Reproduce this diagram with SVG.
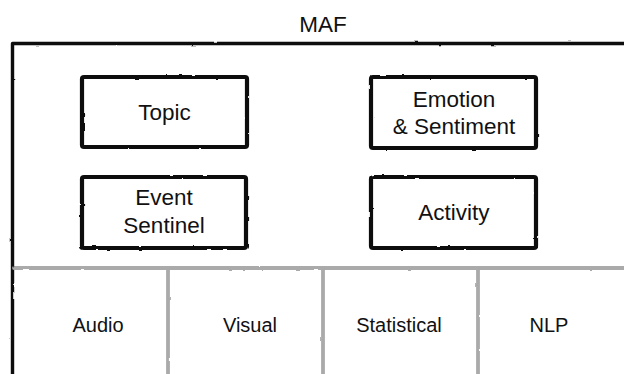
<svg xmlns="http://www.w3.org/2000/svg" width="624" height="374" viewBox="0 0 624 374">
  <defs>
    <filter id="sketch" x="-5%" y="-5%" width="110%" height="110%">
      <feTurbulence type="fractalNoise" baseFrequency="0.09" numOctaves="2" seed="3" result="n"/>
      <feDisplacementMap in="SourceGraphic" in2="n" scale="2" xChannelSelector="R" yChannelSelector="G"/>
    </filter>
  </defs>
  <style>
    .box { fill: #fff; stroke: #111; stroke-width: 4.2; stroke-linejoin: round; }
    .frame { fill: none; stroke: #111; stroke-width: 3.4; stroke-linejoin: round; stroke-linecap: round; }
    .grid { fill: none; stroke: #aaa; stroke-width: 3.8; stroke-linecap: round; }
    .lbl { font-family: "Liberation Sans", Arial, sans-serif; font-size: 22.5px; fill: #111; text-anchor: middle; }
    .sm { font-family: "Liberation Sans", Arial, sans-serif; font-size: 20px; fill: #111; text-anchor: middle; }
  </style>
  <rect width="624" height="374" fill="#fff"/>

  <g id="maf">
    <path class="frame" filter="url(#sketch)" d="M12.5,380 L12.5,43.5 L630,43.5"/>
    <text class="lbl" x="323" y="32">MAF</text>
  </g>

  <g id="connectors">
    <g filter="url(#sketch)">
      <path class="grid" d="M14,268 L626,268"/>
      <path class="grid" d="M168,268 L168,380"/>
      <path class="grid" d="M323,268 L323,380"/>
      <path class="grid" d="M478,268 L478,380"/>
    </g>
  </g>

  <g id="topic">
    <rect class="box" filter="url(#sketch)" x="82" y="77" width="165" height="70" rx="2"/>
    <text class="lbl" x="164.5" y="120">Topic</text>
  </g>

  <g id="emotion">
    <rect class="box" filter="url(#sketch)" x="371" y="77" width="165" height="71" rx="2"/>
    <text class="lbl" x="454" y="107">Emotion</text>
    <text class="lbl" x="454" y="133.5">&amp; Sentiment</text>
  </g>

  <g id="event">
    <rect class="box" filter="url(#sketch)" x="82" y="177" width="164" height="71" rx="2"/>
    <text class="lbl" x="164" y="205">Event</text>
    <text class="lbl" x="164" y="233">Sentinel</text>
  </g>

  <g id="activity">
    <rect class="box" filter="url(#sketch)" x="371" y="177" width="165" height="71" rx="2"/>
    <text class="lbl" x="454" y="220">Activity</text>
  </g>

  <g id="audio"><text class="sm" x="98" y="332">Audio</text></g>
  <g id="visual"><text class="sm" x="250" y="332">Visual</text></g>
  <g id="statistical"><text class="sm" x="399" y="332">Statistical</text></g>
  <g id="nlp"><text class="sm" x="549" y="332">NLP</text></g>
</svg>
